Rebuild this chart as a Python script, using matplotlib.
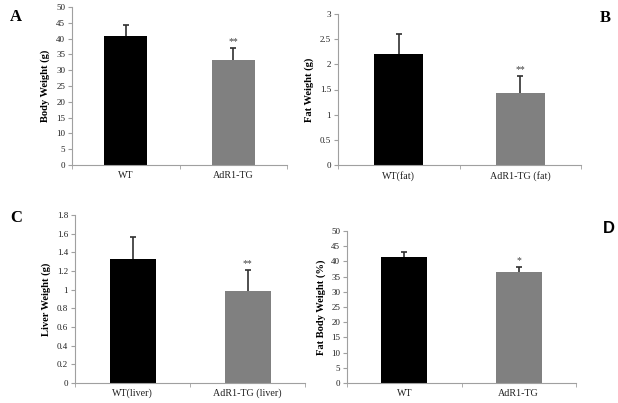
import matplotlib
matplotlib.use("Agg")
import matplotlib.pyplot as plt

plt.rcParams['font.family'] = ['Liberation Serif', 'DejaVu Serif']

# panel data: categories, means, upper error
cats_a = ['WT', 'AdR1-TG']
vals_a = [40.7, 33.2]
err_a = [3.6, 3.8]
stars_a = ['', '**']

cats_b = ['WT(fat)', 'AdR1-TG (fat)']
vals_b = [2.2, 1.44]
err_b = [0.41, 0.33]
stars_b = ['', '**']

cats_c = ['WT(liver)', 'AdR1-TG (liver)']
vals_c = [1.33, 0.99]
err_c = [0.23, 0.22]
stars_c = ['', '**']

cats_d = ['WT', 'AdR1-TG']
vals_d = [41.5, 36.5]
err_d = [1.7, 1.7]
stars_d = ['', '*']

W, H = 618, 403
fig = plt.figure(figsize=(W / 100, H / 100), dpi=100)


def px_axes(left, right, top, bottom):
    return fig.add_axes([left / W, 1 - bottom / H, (right - left) / W, (bottom - top) / H])


def panel(ax, cats, vals, err, stars, ymax, ystep, ylabel, fmt):
    x = range(len(cats))
    ax.bar(x, vals, width=0.4, color=['black', '#808080'], zorder=2)
    # errorbar under the bars so only the upper half shows
    ax.errorbar(x, vals, yerr=[err, err], fmt='none',
                ecolor='#303030', elinewidth=1.2, capsize=2.5, capthick=1.2, zorder=1)
    for i, s in enumerate(stars):
        if s:
            ax.text(i, vals[i] + err[i] + ymax * 0.01, s, ha='center', va='bottom',
                    fontsize=7, color='#404040')
    ax.set_xlim(-0.5, len(cats) - 0.5)
    ax.set_ylim(0, ymax)
    ticks = [i * ystep for i in range(int(round(ymax / ystep)) + 1)]
    ax.set_yticks(ticks)
    ax.set_yticklabels([fmt(t) for t in ticks], fontsize=6.5, color='#202020')
    ax.set_xticks([-0.5, 0.5, 1.5], minor=True)
    ax.set_xticks(list(x))
    ax.set_xticklabels(cats, fontsize=7.2, color='#202020')
    ax.tick_params(axis='x', which='major', length=0, pad=4)
    ax.tick_params(axis='x', which='minor', length=3, color='#a0a0a0')
    ax.tick_params(axis='y', length=3, color='#a0a0a0', pad=2)
    ax.set_ylabel(ylabel, fontsize=7.6, fontweight='bold', labelpad=4)
    for s in ['top', 'right']:
        ax.spines[s].set_visible(False)
    for s in ['left', 'bottom']:
        ax.spines[s].set_color('#a0a0a0')
        ax.spines[s].set_linewidth(0.8)


def fmt_int(t):
    return '%d' % round(t)


def fmt_g(t):
    return ('%g' % round(t, 2))


ax_a = px_axes(72, 287, 7, 165)
panel(ax_a, cats_a, vals_a, err_a, stars_a, 50, 5, 'Body Weight (g)', fmt_int)

ax_b = px_axes(338, 581, 14, 165)
panel(ax_b, cats_b, vals_b, err_b, stars_b, 3, 0.5, 'Fat Weight (g)', fmt_g)

ax_c = px_axes(75, 305, 215, 383)
panel(ax_c, cats_c, vals_c, err_c, stars_c, 1.8, 0.2, 'Liver Weight (g)', fmt_g)

ax_d = px_axes(347, 576, 231, 383)
panel(ax_d, cats_d, vals_d, err_d, stars_d, 50, 5, 'Fat Body Weight (%)', fmt_int)

fig.text(10 / W, 1 - 21 / H, 'A', fontsize=12, fontweight='bold')
fig.text(600 / W, 1 - 22 / H, 'B', fontsize=12, fontweight='bold')
fig.text(10 / W, 1 - 222 / H, 'C', fontsize=12, fontweight='bold')
fig.text(603 / W, 1 - 233 / H, 'D', fontsize=12, fontweight='bold',
         family=['Liberation Sans', 'DejaVu Sans'])

fig.savefig('out.png', dpi=100)
